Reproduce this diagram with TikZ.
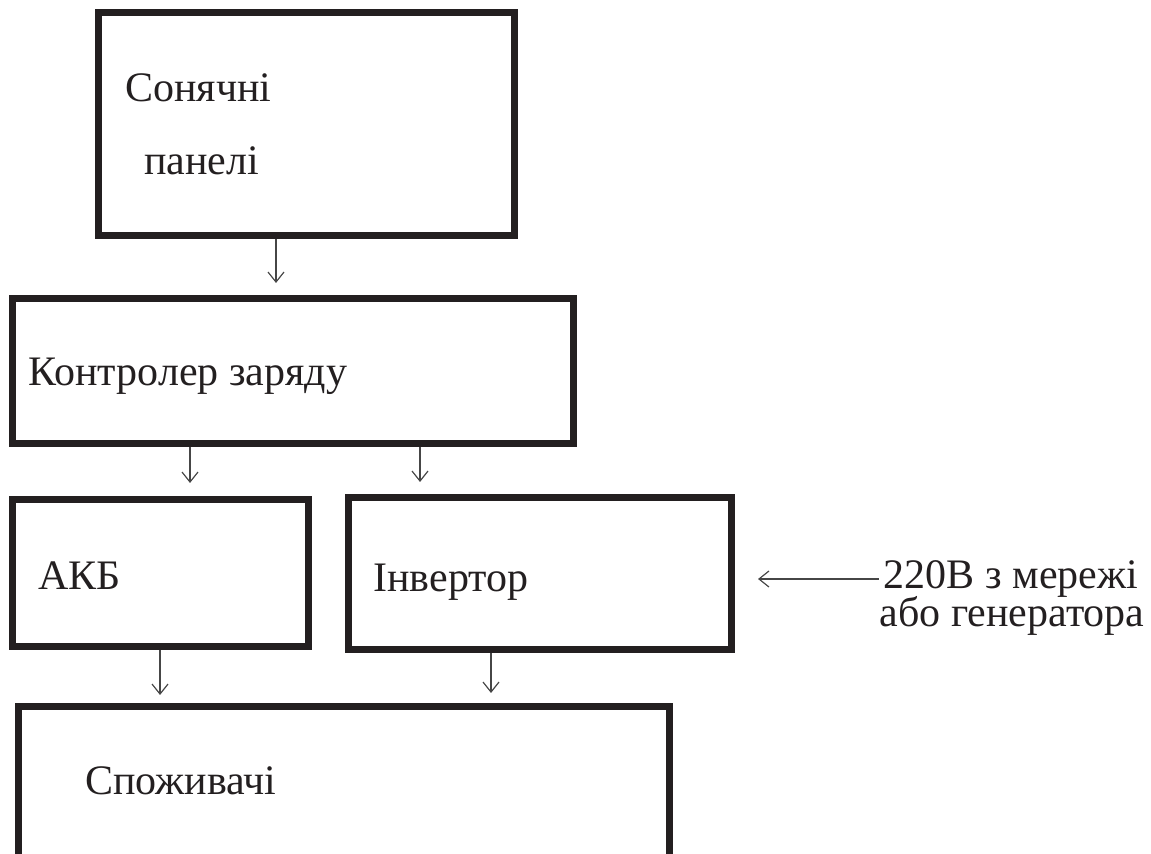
\documentclass[tikz,border=0pt]{standalone}
\usepackage{fontspec}
\setmainfont{Liberation Serif}
\usetikzlibrary{positioning,calc}
\usetikzlibrary{arrows.meta}
\definecolor{InkBlack}{RGB}{35,31,32}
\definecolor{WireGray}{RGB}{70,70,70}
\tikzset{
  block/.style={draw=InkBlack,line width=3.5pt,inner sep=0pt},
  txt/.style={anchor=base west,inner sep=0pt,text=InkBlack,font=\fontsize{21}{25}\selectfont},
  flow/.style={draw=WireGray,line width=0.6pt,-{Straight Barb[length=5pt,width=8pt]}},
}

\begin{document}
\begin{tikzpicture}[x=0.5pt,y=-0.5pt]
\useasboundingbox (0,0) rectangle (1151,854);
% blocks
\node[block,minimum width=208pt,minimum height=111.5pt] (panels) at (306.5,124) {};
\node[block,minimum width=280.5pt,minimum height=72.5pt] (ctrl) at (293,371) {};
\node[block,minimum width=148pt,minimum height=73.5pt] (akb) at (160.5,573) {};
\node[block,minimum width=191.5pt,minimum height=76pt] (inv) at (540,573.5) {};
\node[block,minimum width=325.5pt,minimum height=97pt] (load) at (344,803.25) {};
% texts
\node[txt] (tpan1) at (125,102) {Сонячні};
\node[txt] (tpan2) at (144,175) {панелі};
\node[txt] (tctrl) at (28,386) {Контролер заряду};
\node[txt] (takb) at (38,590) {АКБ};
\node[txt] (tinv) at (373,592) {Інвертор};
\node[txt] (tload) at (85,794) {Споживачі};
\node[txt,anchor=base] (src1) at (1011,589) {220В з мережі};
\node[txt,anchor=base] (src2) at (1012,627) {або генератора};
% arrow ends
\coordinate (a1) at (276,283);
\coordinate (a2) at (190,483);
\coordinate (a3) at (420,482);
\coordinate (a4) at (160,695);
\coordinate (a5) at (491,693);
\coordinate (a6) at (758,579);
\draw[flow] (a1 |- panels.south) -- (a1);
\draw[flow] (a2 |- ctrl.south) -- (a2);
\draw[flow] (a3 |- ctrl.south) -- (a3);
\draw[flow] (a4 |- akb.south) -- (a4);
\draw[flow] (a5 |- inv.south) -- (a5);
\draw[flow,shorten <=2.5pt] (src1.west |- a6) -- (a6);
\end{tikzpicture}
\end{document}
